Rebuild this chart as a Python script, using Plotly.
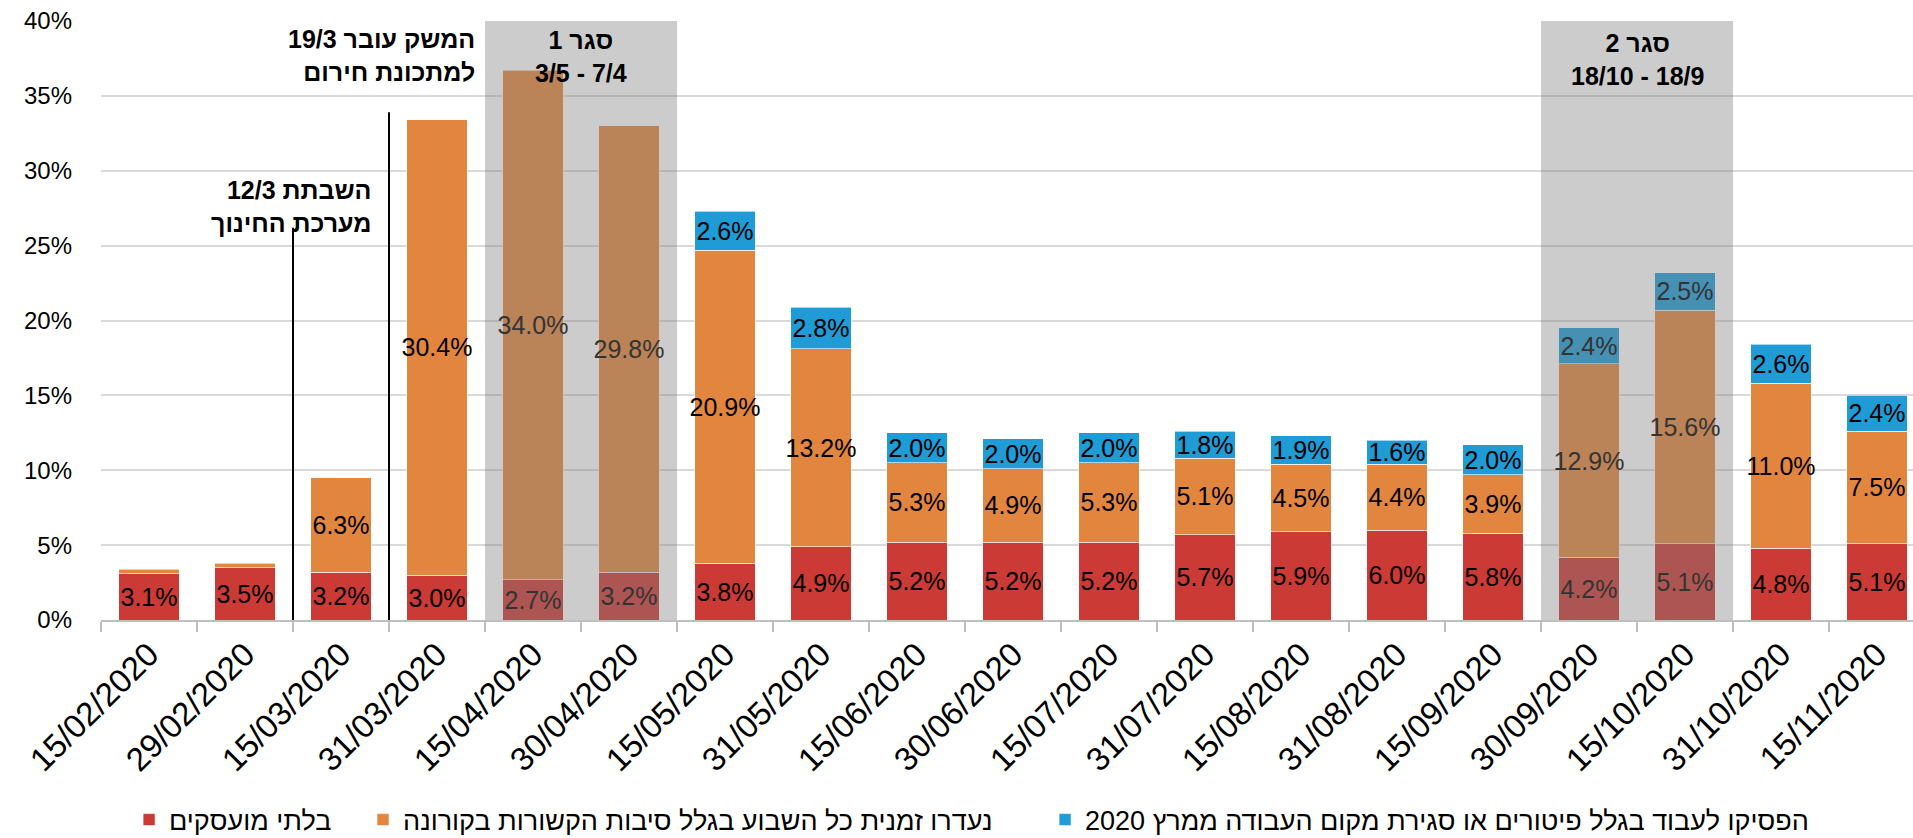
import plotly.graph_objects as go

dates = ["15/02/2020", "29/02/2020", "15/03/2020", "31/03/2020", "15/04/2020", "30/04/2020",
         "15/05/2020", "31/05/2020", "15/06/2020", "30/06/2020", "15/07/2020", "31/07/2020",
         "15/08/2020", "31/08/2020", "15/09/2020", "30/09/2020", "15/10/2020", "31/10/2020",
         "15/11/2020"]

unemployed = [3.1, 3.5, 3.2, 3.0, 2.7, 3.2, 3.8, 4.9, 5.2, 5.2, 5.2, 5.7, 5.9, 6.0, 5.8, 4.2, 5.1, 4.8, 5.1]
absent = [0.3, 0.3, 6.3, 30.4, 34.0, 29.8, 20.9, 13.2, 5.3, 4.9, 5.3, 5.1, 4.5, 4.4, 3.9, 12.9, 15.6, 11.0, 7.5]
absent_labeled = [False, False] + [True] * 17
stopped = [None, None, None, None, None, None, 2.6, 2.8, 2.0, 2.0, 2.0, 1.8, 1.9, 1.6, 2.0, 2.4, 2.5, 2.6, 2.4]

names = ["בלתי מועסקים",
         "נעדרו זמנית כל השבוע בגלל סיבות הקשורות בקורונה",
         "הפסיקו לעבוד בגלל פיטורים או סגירת מקום העבודה ממרץ 2020"]
colors = ["#CC3A35", "#E2863F", "#1F9BD5"]

FONT = "Liberation Sans, DejaVu Sans, sans-serif"
LABEL_SIZE = 25

LRE, RLE, PDF = "\u202a", "\u202b", "\u202c"


def ltr(s):
    return LRE + s + PDF


def rtl(s):
    return RLE + s + PDF


def fmt(v, show=True):
    return f"{v:.1f}%" if (v is not None and show) else ""


fig = go.Figure()
series = [
    (unemployed, [fmt(v) for v in unemployed], "legend"),
    (absent, [fmt(v, s) for v, s in zip(absent, absent_labeled)], "legend2"),
    (stopped, [fmt(v) for v in stopped], "legend3"),
]
for (vals, txt, leg), name, col in zip(series, names, colors):
    fig.add_trace(go.Bar(
        x=dates, y=vals, name=rtl(name), text=txt,
        textposition="inside", insidetextanchor="middle", textangle=0,
        constraintext="none",
        textfont=dict(family=FONT, size=LABEL_SIZE, color="black"),
        marker=dict(color=col, line=dict(color="rgba(255,255,255,0.6)", width=1)),
        legend=leg, showlegend=True, hoverinfo="skip",
    ))

# lockdown periods and event markers
lock_periods = [(3.5, 5.5), (14.5, 16.5)]
shapes = []
for x0, x1 in lock_periods:
    shapes.append(dict(type="rect", xref="x", yref="y", x0=x0, x1=x1, y0=0, y1=40,
                       fillcolor="rgba(128,128,128,0.4)", line=dict(width=0), layer="above"))
event_lines = [(1.5, 26.2), (2.5, 33.9)]
for xv, top in event_lines:
    shapes.append(dict(type="line", xref="x", yref="y", x0=xv, x1=xv, y0=0, y1=top,
                       line=dict(color="black", width=2), layer="above"))

ann_font = dict(family=FONT, size=25, color="black")
annotations = [
    dict(x=2.33, y=27.6, xref="x", yref="y",
         text="<b>" + ltr("12/3 השבתת") + "<br>" + rtl("מערכת החינוך") + "</b>",
         xanchor="right", yanchor="middle", align="right", showarrow=False, font=ann_font),
    dict(x=3.42, y=37.7, xref="x", yref="y",
         text="<b>" + ltr("19/3 המשק עובר") + "<br>" + rtl("למתכונת חירום") + "</b>",
         xanchor="right", yanchor="middle", align="right", showarrow=False, font=ann_font),
    dict(x=4.5, y=37.6, xref="x", yref="y",
         text="<b>" + rtl("סגר 1") + "<br>" + ltr("3/5 - 7/4") + "</b>",
         xanchor="center", yanchor="middle", align="center", showarrow=False, font=ann_font),
    dict(x=15.5, y=37.4, xref="x", yref="y",
         text="<b>" + rtl("סגר 2") + "<br>" + ltr("18/10 - 18/9") + "</b>",
         xanchor="center", yanchor="middle", align="center", showarrow=False, font=ann_font),
]

leg_common = dict(orientation="h", yanchor="middle", y=-0.334, xanchor="left",
                  bgcolor="rgba(0,0,0,0)", visible=True,
                  font=dict(family=FONT, size=27, color="black"))

fig.update_layout(
    width=1913, height=838,
    margin=dict(l=101, r=0, t=21, b=218, autoexpand=False),
    barmode="stack", bargap=0.365,
    plot_bgcolor="white", paper_bgcolor="white",
    font=dict(family=FONT, color="black"),
    showlegend=True, hovermode=False,
    shapes=shapes, annotations=annotations,
    legend=dict(x=0.0155, **leg_common),
    legend2=dict(x=0.1446, **leg_common),
    legend3=dict(x=0.521, **leg_common),
    xaxis=dict(type="category", range=[-0.5, 18.375], tickangle=-45,
               tickfont=dict(family=FONT, size=33, color="black"),
               showline=True, linecolor="#BFBFBF", linewidth=1.5,
               ticks="outside", tickson="boundaries", ticklen=10, tickcolor="#BFBFBF",
               tickwidth=1.5, showgrid=False, automargin=False),
    yaxis=dict(range=[0, 40], dtick=5, ticksuffix="%",
               tickfont=dict(family=FONT, size=24, color="black"),
               gridcolor="#D9D9D9", gridwidth=1.5, zeroline=False, showline=False,
               ticklabelstandoff=28, automargin=False),
)

fig.write_html("out.html", config={"displayModeBar": False},
               post_script="document.body.style.margin='0';document.body.style.overflow='hidden';")
